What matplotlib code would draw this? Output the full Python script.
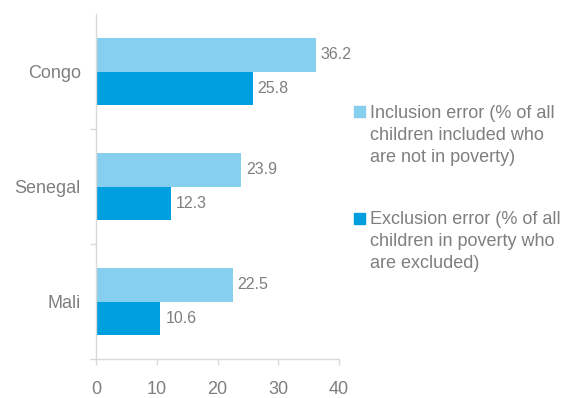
import matplotlib.pyplot as plt
from matplotlib.patches import Rectangle

plt.rcParams['font.family'] = ['Liberation Sans', 'DejaVu Sans']

# data
countries = ['Congo', 'Senegal', 'Mali']
inclusion = [36.2, 23.9, 22.5]
exclusion = [25.8, 12.3, 10.6]
x_ticks = [0, 10, 20, 30, 40]
labels = ['Inclusion error (% of all\nchildren included who\nare not in poverty)',
          'Exclusion error (% of all\nchildren in poverty who\nare excluded)']

light = '#87CFEE'
dark = '#009FDF'
grey = '#7F7F7F'
line_col = '#D9D9D9'

fig = plt.figure(figsize=(5.63, 3.98), dpi=100)
ax = fig.add_axes([96 / 563, 39 / 398, 243 / 563, 345 / 398])

ypos = [2, 1, 0]
h = 0.29
for y, inc, exc in zip(ypos, inclusion, exclusion):
    ax.barh(y + h / 2, inc, height=h, color=light)
    ax.barh(y - h / 2, exc, height=h, color=dark)
    ax.text(inc + 0.8, y + h / 2, f'{inc:.1f}', va='center', ha='left', fontsize=11.5, color=grey)
    ax.text(exc + 0.8, y - h / 2, f'{exc:.1f}', va='center', ha='left', fontsize=11.5, color=grey)

ax.set_xlim(0, 40)
ax.set_ylim(-0.5, 2.5)
ax.set_xticks(x_ticks)
ax.set_yticks(ypos)
ax.set_yticklabels(countries)
ax.set_yticks([-0.5, 0.5, 1.5], minor=True)

for s in ['top', 'right']:
    ax.spines[s].set_visible(False)
for s in ['left', 'bottom']:
    ax.spines[s].set_color(line_col)
    ax.spines[s].set_linewidth(1)

ax.tick_params(axis='y', which='major', length=0, pad=11, labelsize=13, labelcolor=grey)
ax.tick_params(axis='y', which='minor', length=4, color=line_col, width=1)
ax.tick_params(axis='x', length=4, color=line_col, width=1, pad=12, labelsize=13, labelcolor=grey)

# legend drawn by hand
for yl, col, lab in [(0.719, light, labels[0]), (0.452, dark, labels[1])]:
    fig.patches.append(Rectangle((354 / 563, yl - 0.014), 11 / 563, 11 / 398,
                                 transform=fig.transFigure, color=col))
    fig.text(370 / 563, yl + 0.017, lab, ha='left', va='top', fontsize=13,
             color=grey, linespacing=1.38)

fig.savefig('out.png', dpi=100)
